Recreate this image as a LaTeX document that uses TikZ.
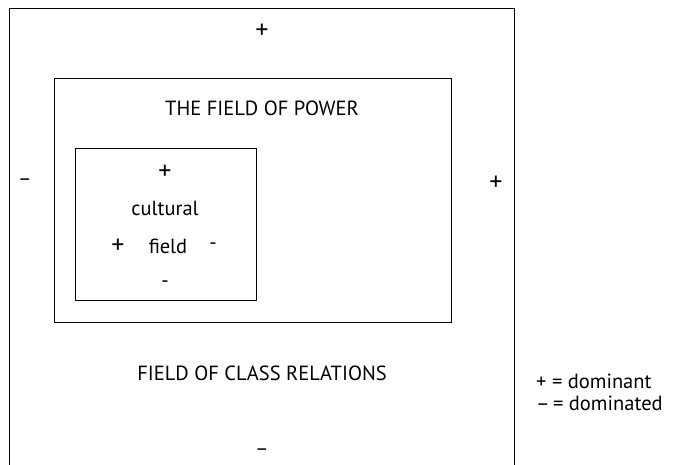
\documentclass[tikz,border=0pt]{standalone}
\usepackage{fontspec}
\setmainfont{PT Sans}
\begin{document}
\begin{tikzpicture}[x=1pt,y=-1pt,
  frame/.style={draw=black,line width=0.9pt},
  lbl/.style={inner sep=0pt,font=\fontsize{20.5}{24}\selectfont},
  sign/.style={inner sep=0pt,font=\fontsize{20.5}{24}\selectfont},
  plus/.style={inner sep=0pt,font=\fontsize{26}{30}\selectfont}]
\useasboundingbox (0,0) rectangle (674,465);
% outer field, open at the bottom
\draw[frame] (9.5,465) coordinate (obl) -- (9.5,8) coordinate (otl) -- (514,8) coordinate (otr) -- (514,465) coordinate (obr);
% field of power
\node[frame,minimum width=397pt,minimum height=244pt,inner sep=0pt] (power) at (253,200) {};
% cultural field
\node[frame,minimum width=181pt,minimum height=152pt,inner sep=0pt] (cult) at (165.5,224) {};
% labels
\node[plus] (otop) at (262,31) {+};
\node[sign] (oleft) at (25,182) {–};
\node[plus] (oright) at (496,183) {+};
\node[sign] (obot) at (262,452) {–};
\node[lbl] (ptitle) at (262,108) {THE FIELD OF POWER};
\node[lbl] (ctitle) at (262,373) {FIELD OF CLASS RELATIONS};
\node[plus] (ctop) at (165,172) {+};
\node[lbl] (cult1) at (165,208) {cultural};
\node[lbl] (cult2) at (168,246) {field};
\node[plus] (cleft) at (118,246) {+};
\node[sign] (cright) at (213,246) {-};
\node[sign] (cbot) at (165,284) {-};
% legend
\node[lbl,anchor=west] (leg1) at (536,381) {+ = dominant};
\node[lbl,anchor=west] (leg2) at (536,403) {–\,= dominated};
\end{tikzpicture}
\end{document}
